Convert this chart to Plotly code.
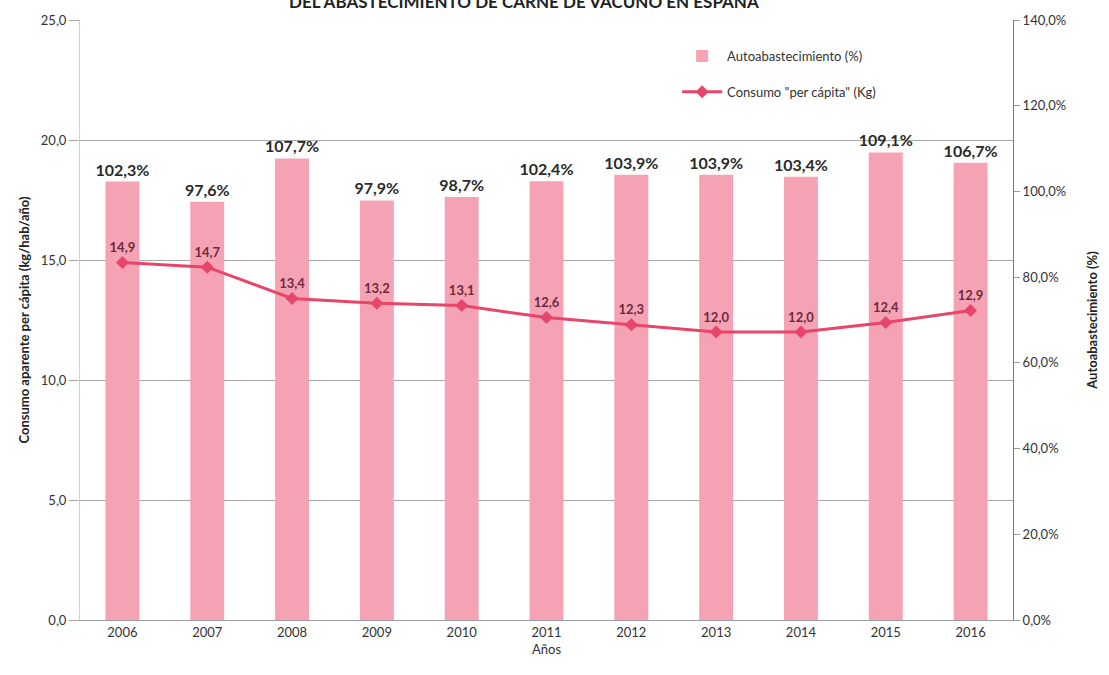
import plotly.graph_objects as go

# Beef self-supply in Spain, 2006-2016
years = ["2006", "2007", "2008", "2009", "2010", "2011", "2012", "2013", "2014", "2015", "2016"]
autoabastecimiento = [102.3, 97.6, 107.7, 97.9, 98.7, 102.4, 103.9, 103.9, 103.4, 109.1, 106.7]
consumo_per_capita = [14.9, 14.7, 13.4, 13.2, 13.1, 12.6, 12.3, 12.0, 12.0, 12.4, 12.9]

font_family = "Lato, 'Open Sans', sans-serif"
bar_color = "#F5A3B4"
line_color = "#E8456B"

fig = go.Figure()

# Bars on the primary axis (shown on the right side) so the line can sit on top
fig.add_trace(go.Bar(
    x=years, y=autoabastecimiento, name="Autoabastecimiento (%)",
    legendgroup="bars",
    marker=dict(color=bar_color, line=dict(width=0)),
    width=0.4,
    texttemplate="<b>%{y:.1f}%</b>", textposition="outside", constraintext="none",
    textfont=dict(size=16, color="#2a2a2a", family=font_family),
    cliponaxis=False, yaxis="y",
))

fig.add_trace(go.Scatter(
    x=years, y=consumo_per_capita, name='Consumo "per cápita" (Kg)',
    legendgroup="line",
    mode="lines+markers+text",
    line=dict(color=line_color, width=3),
    marker=dict(symbol="diamond", size=10, color=line_color),
    texttemplate="<b>%{y:.1f}</b>", textposition="top center",
    textfont=dict(size=13, color="#6E2A3C", family=font_family),
    cliponaxis=False, yaxis="y2",
))

fig.update_layout(
    width=1109, height=675,
    margin=dict(l=80, r=94, t=20, b=55),
    paper_bgcolor="white", plot_bgcolor="white",
    separators=",.",
    font=dict(family=font_family, size=13, color="#333333"),
    showlegend=True,
    legend=dict(
        x=0.64, y=0.965, xanchor="left", yanchor="top",
        bgcolor="rgba(255,255,255,0)", font=dict(size=13, color="#333333"),
        tracegroupgap=16, itemwidth=40,
    ),
    xaxis=dict(
        type="category", range=[-0.5, 10.5], showgrid=False,
        showline=True, linecolor="#9a9a9a", linewidth=1,
        ticks="", tickfont=dict(size=13, color="#333333"),
        title=dict(text="Años", font=dict(size=13, color="#333333"), standoff=6),
    ),
    yaxis=dict(
        side="right", range=[0, 140], dtick=20,
        tickformat=".1f", ticksuffix="%",
        showgrid=False, zeroline=False,
        showline=True, linecolor="#7a7a7a", linewidth=1,
        ticks="outside", ticklen=6, tickcolor="#9a9a9a",
        tickfont=dict(size=13, color="#333333"),
        title=dict(text="<b>Autoabastecimiento (%)</b>", font=dict(size=13, color="#222222"), standoff=22),
    ),
    yaxis2=dict(
        overlaying="y", side="left", range=[0, 25], dtick=5,
        tickformat=".1f",
        showgrid=True, gridcolor="#a8a8a8", gridwidth=1,
        zeroline=False,
        showline=True, linecolor="#d0d0d0", linewidth=1,
        ticks="outside", ticklen=10, tickcolor="#a8a8a8",
        tickfont=dict(size=13, color="#333333"),
        title=dict(text="<b>Consumo aparente per cápita (kg/hab/año)</b>", font=dict(size=13, color="#222222"), standoff=8),
    ),
)

# Chart title, sitting at the top edge of the page
fig.add_annotation(
    text="<b>DEL ABASTECIMIENTO DE CARNE DE VACUNO EN ESPAÑA</b>",
    xref="paper", yref="paper", x=0.476, y=1.031, xanchor="center", yanchor="middle",
    showarrow=False, font=dict(size=17, color="#222222", family=font_family),
)

fig.write_html("out.html")
